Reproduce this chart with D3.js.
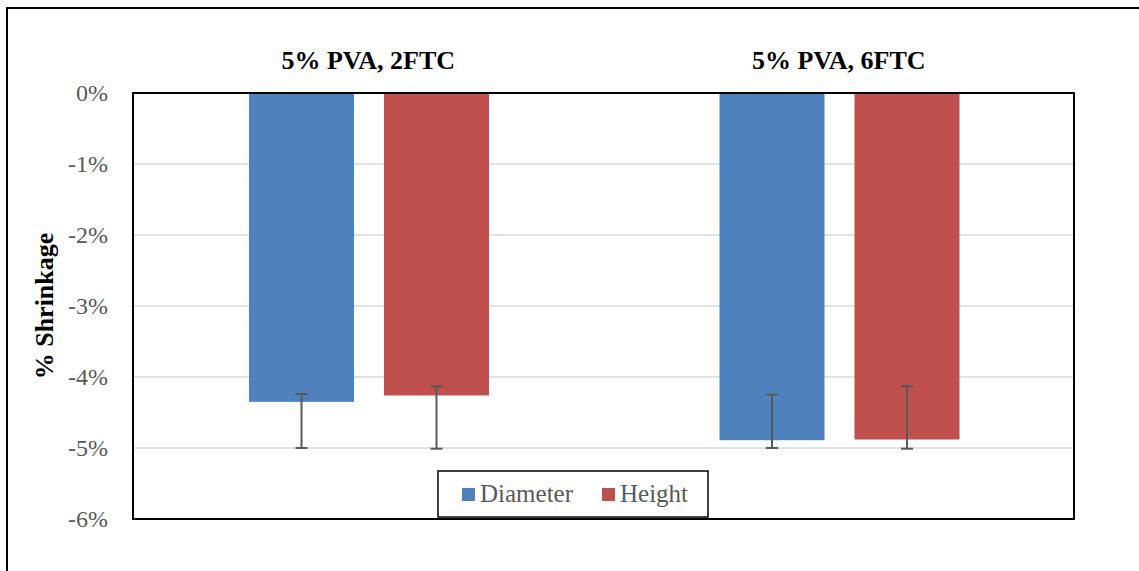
<!DOCTYPE html>
<html><head><meta charset="utf-8">
<script src="https://cdn.jsdelivr.net/npm/d3@7"></script>
<style>body{margin:0;background:#fff}svg{display:block}
text{font-family:"Liberation Serif","Times New Roman","DejaVu Serif",serif}</style>
</head><body>
<svg id="c" width="1139" height="571"></svg>
<script>
const categories = ["5% PVA, 2FTC", "5% PVA, 6FTC"];
const seriesNames = ["Diameter", "Height"];
const diameter = [-4.35, -4.89];
const height = [-4.26, -4.88];
const diameterErrTop = [-4.24, -4.25];
const diameterErrBottom = [-5.0, -5.0];
const heightErrTop = [-4.13, -4.13];
const heightErrBottom = [-5.01, -5.01];
const yTicks = [0, -1, -2, -3, -4, -5, -6];
const colors = ["#4f81bd", "#c0504d"];

const svg = d3.select("#c");
const L = 133, T = 93, R = 1074, B = 519;
svg.append("rect").attr("x",7).attr("y",8).attr("width",1140).attr("height",580)
  .attr("fill","none").attr("stroke","#000").attr("stroke-width",2);

const y = d3.scaleLinear().domain([-6,0]).range([B,T]);
const x0 = d3.scaleBand().domain(categories).range([L,R]);
const x1 = d3.scaleBand().domain(seriesNames).range([116,356]).paddingInner(0.222);

svg.append("g").selectAll("line").data(yTicks).join("line")
  .attr("x1",L).attr("x2",R).attr("y1",d=>y(d)).attr("y2",d=>y(d))
  .attr("stroke","#d9d9d9").attr("stroke-width",1.5);

const data = categories.map((c,i)=>({c, vals:[
  {s:"Diameter", v:diameter[i], t:diameterErrTop[i], b:diameterErrBottom[i]},
  {s:"Height", v:height[i], t:heightErrTop[i], b:heightErrBottom[i]}]}));

const g = svg.append("g").selectAll("g").data(data).join("g")
  .attr("transform",d=>`translate(${x0(d.c)},0)`);
g.selectAll("rect").data(d=>d.vals).join("rect")
  .attr("x",d=>x1(d.s)).attr("width",x1.bandwidth())
  .attr("y",y(0)).attr("height",d=>y(d.v)-y(0))
  .attr("fill",(d,i)=>colors[i]);
const eb = g.selectAll("g.eb").data(d=>d.vals).join("g").attr("class","eb")
  .attr("transform",d=>`translate(${x1(d.s)+x1.bandwidth()/2},0)`);
eb.append("line").attr("y1",d=>y(d.t)).attr("y2",d=>y(d.b)).attr("stroke","#595959").attr("stroke-width",2);
eb.append("line").attr("x1",-6).attr("x2",6).attr("y1",d=>y(d.t)).attr("y2",d=>y(d.t)).attr("stroke","#595959").attr("stroke-width",2);
eb.append("line").attr("x1",-6).attr("x2",6).attr("y1",d=>y(d.b)).attr("y2",d=>y(d.b)).attr("stroke","#595959").attr("stroke-width",2);

svg.append("rect").attr("x",L).attr("y",T).attr("width",R-L).attr("height",B-T)
  .attr("fill","none").attr("stroke","#000").attr("stroke-width",2);

svg.append("g").selectAll("text").data(categories).join("text")
  .attr("x",d=>x0(d)+x0.bandwidth()/2).attr("y",69).attr("text-anchor","middle")
  .style("font-weight","bold").style("font-size","26px").attr("fill","#000")
  .text(d=>d);

const yAxis = d3.axisLeft(y).tickValues(yTicks).tickSize(0).tickPadding(25).tickFormat(d=>d+"%");
const ya = svg.append("g").attr("transform",`translate(${L},0)`).call(yAxis);
ya.attr("font-family",null).attr("font-size",null);
ya.select(".domain").remove();
ya.selectAll("text").style("font-size","24px").attr("fill","#595959");

svg.append("text").attr("transform",`translate(53,306) rotate(-90)`).attr("text-anchor","middle")
  .style("font-weight","bold").style("font-size","26px").text("% Shrinkage");

svg.append("rect").attr("x",438).attr("y",471).attr("width",270).attr("height",46)
  .attr("fill","#fff").attr("stroke","#000").attr("stroke-width",1.5);
const lx = [462, 602];
const lg = svg.append("g").selectAll("g").data(seriesNames).join("g")
  .attr("transform",(d,i)=>`translate(${lx[i]},0)`);
lg.append("rect").attr("x",0).attr("y",488).attr("width",13).attr("height",13).attr("fill",(d,i)=>colors[i]);
lg.append("text").attr("x",18).attr("y",502).style("font-size","25px").attr("fill","#595959").text(d=>d);
</script>
</body></html>
